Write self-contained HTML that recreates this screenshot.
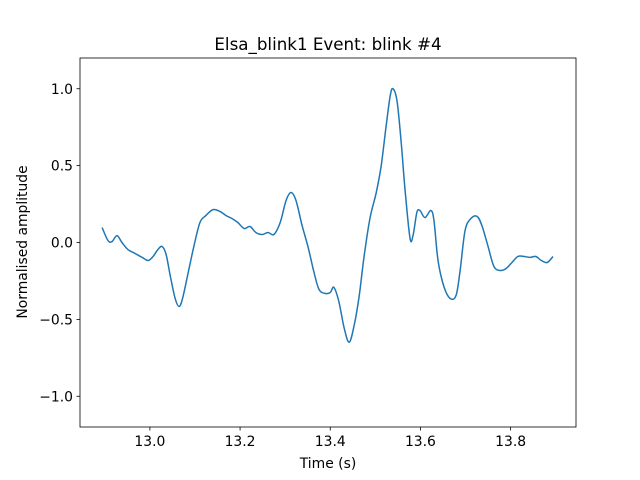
<!DOCTYPE html>
<html><head><meta charset="utf-8"><style>
body{margin:0;background:#fff}
svg{display:block;font-family:"DejaVu Sans","Liberation Sans",sans-serif}
</style></head><body>
<svg id="chart" width="640" height="480">
<rect width="640" height="480" fill="#fff"/>
<text x="328" y="50" font-size="16.7" text-anchor="middle">Elsa_blink1 Event: blink #4</text>
<text x="328" y="468" font-size="13.9" text-anchor="middle">Time (s)</text>
<text transform="translate(27,242) rotate(-90)" font-size="13.9" text-anchor="middle">Normalised amplitude</text>
<g id="ticks"></g>
<path id="line" fill="none" stroke="#1f77b4" stroke-width="1.5" stroke-linejoin="round"/>
<rect x="80" y="58" width="496" height="369" fill="none" stroke="#000" stroke-width="0.8"/>
</svg>
<script>
const times=[12.894,12.907,12.916,12.927,12.938,12.951,12.967,12.983,12.996,13.007,13.018,13.027,13.036,13.045,13.056,13.065,13.073,13.085,13.098,13.111,13.124,13.140,13.156,13.169,13.182,13.195,13.209,13.222,13.235,13.249,13.262,13.275,13.289,13.302,13.313,13.324,13.337,13.351,13.364,13.375,13.388,13.400,13.408,13.419,13.431,13.442,13.453,13.464,13.475,13.488,13.502,13.513,13.524,13.533,13.539,13.548,13.557,13.566,13.577,13.584,13.592,13.599,13.610,13.623,13.630,13.639,13.652,13.666,13.679,13.688,13.699,13.712,13.726,13.737,13.750,13.763,13.777,13.790,13.803,13.816,13.830,13.843,13.856,13.868,13.881,13.894];
const amps=[0.097,0.013,0.006,0.045,0,-0.045,-0.071,-0.097,-0.117,-0.091,-0.045,-0.026,-0.078,-0.214,-0.364,-0.416,-0.357,-0.195,-0.019,0.130,0.175,0.214,0.201,0.175,0.156,0.130,0.091,0.104,0.065,0.052,0.065,0.052,0.130,0.273,0.325,0.273,0.117,-0.032,-0.195,-0.305,-0.331,-0.325,-0.292,-0.383,-0.558,-0.649,-0.539,-0.351,-0.091,0.156,0.325,0.5,0.76,0.955,1.0,0.922,0.662,0.338,0.026,0.052,0.195,0.208,0.162,0.208,0.143,-0.117,-0.286,-0.364,-0.344,-0.182,0.078,0.156,0.169,0.104,-0.026,-0.156,-0.182,-0.169,-0.130,-0.091,-0.091,-0.097,-0.091,-0.117,-0.130,-0.091];
const xTicks=[13.0,13.2,13.4,13.6,13.8];
const xTickLabels=["13.0","13.2","13.4","13.6","13.8"];
const yTicks=[-1.0,-0.5,0.0,0.5,1.0];
const yTickLabels=["\u22121.0","\u22120.5","0.0","0.5","1.0"];
const X0=80,X1=576,Y0=58,Y1=427,xmin=12.845,xmax=13.945,ymin=-1.2,ymax=1.2;
const sx=t=>X0+(t-xmin)/(xmax-xmin)*(X1-X0);
const sy=v=>Y1-(v-ymin)/(ymax-ymin)*(Y1-Y0);
const NS="http://www.w3.org/2000/svg";
const g=document.getElementById('ticks');
function mk(tag,attrs,txt){const e=document.createElementNS(NS,tag);for(const k in attrs)e.setAttribute(k,attrs[k]);if(txt!=null)e.textContent=txt;g.appendChild(e);return e;}
xTicks.forEach((t,i)=>{const x=sx(t);
const l=mk('line',{x1:x,x2:x,y1:Y1,y2:Y1+3.5,stroke:'#000','stroke-width':0.8});


const s=mk('text',{x:x,y:Y1+19,'font-size':13.9,'text-anchor':'middle'},xTickLabels[i]);

});
yTicks.forEach((v,i)=>{const y=sy(v);
const l=mk('line',{x1:X0-3.5,x2:X0,y1:y,y2:y,stroke:'#000','stroke-width':0.8});


const s=mk('text',{x:X0-7,y:y+5,'font-size':13.9,'text-anchor':'end'},yTickLabels[i]);

});
const pts=times.map((t,i)=>[sx(t),sy(amps[i])]);
let d='M'+pts[0][0]+','+pts[0][1];
for(let i=0;i<pts.length-1;i++){const p0=pts[Math.max(0,i-1)],p1=pts[i],p2=pts[i+1],p3=pts[Math.min(pts.length-1,i+2)];
d+=' C'+(p1[0]+(p2[0]-p0[0])/6)+','+(p1[1]+(p2[1]-p0[1])/6)+' '+(p2[0]-(p3[0]-p1[0])/6)+','+(p2[1]-(p3[1]-p1[1])/6)+' '+p2[0]+','+p2[1];}
document.getElementById('line').setAttribute('d',d);
</script>
</body></html>
